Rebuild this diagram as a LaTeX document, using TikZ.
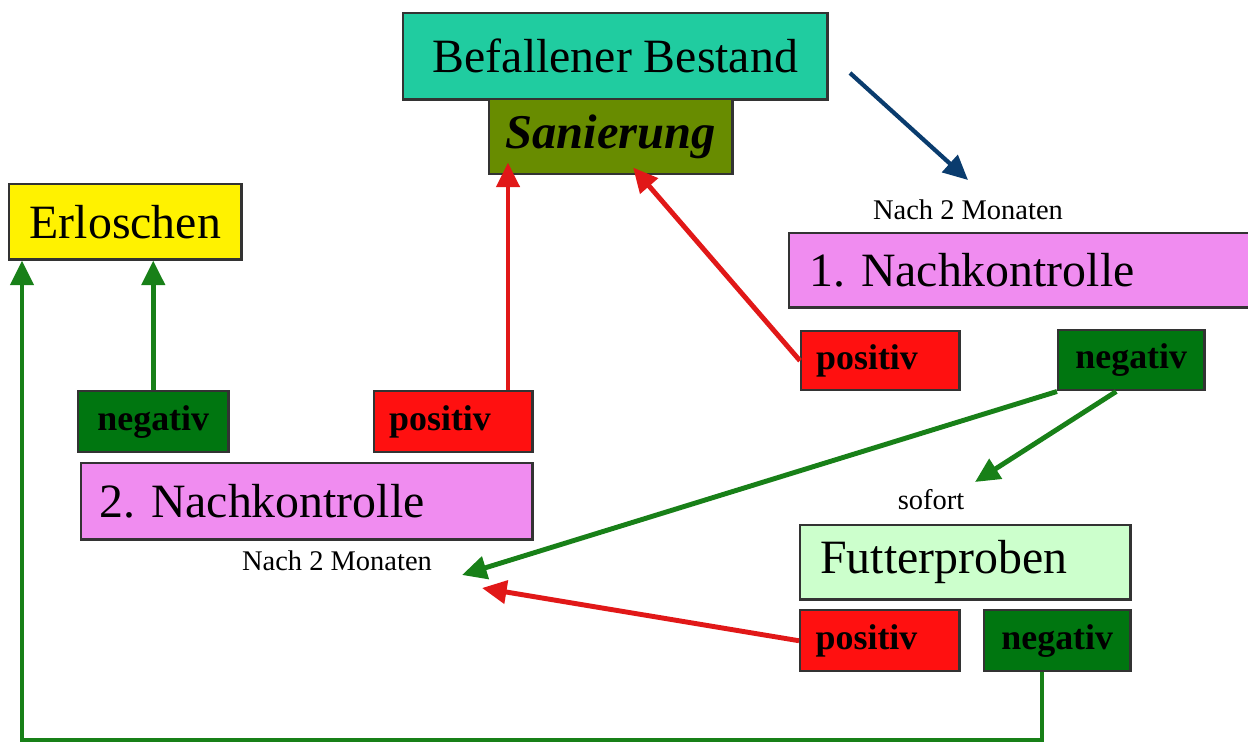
\documentclass[tikz,border=0pt]{standalone}
\usepackage{fontspec}
\setmainfont{Liberation Serif}
\usetikzlibrary{arrows.meta,calc}
\frenchspacing

\definecolor{bestand}{RGB}{32,204,160}
\definecolor{olive}{RGB}{104,140,0}
\definecolor{kontrolle}{RGB}{240,140,240}
\definecolor{futter}{RGB}{204,255,204}
\definecolor{posred}{RGB}{255,16,16}
\definecolor{neggreen}{RGB}{0,118,16}
\definecolor{arrgreen}{RGB}{24,128,24}
\definecolor{arrred}{RGB}{225,24,24}
\definecolor{arrblue}{RGB}{10,60,110}

\tikzset{
  box/.style={draw=black!80, line width=0.7pt, inner sep=0pt, anchor=north west},
  big/.style={font=\fontsize{13.6}{16}\selectfont},
  small/.style={font=\fontsize{8.1}{10}\selectfont, inner sep=0pt},
  result/.style={box, font=\fontsize{10.2}{12}\selectfont\bfseries},
  posbox/.style={result, fill=posred, text width=1.28cm, align=left},
  negbox/.style={result, fill=neggreen},
  greenarrow/.style={->, draw=arrgreen, line width=1.4pt},
  redarrow/.style={->, draw=arrred, line width=1.4pt},
}

\begin{document}
\begin{tikzpicture}[x=0.01cm,y=-0.01cm,>={Triangle[length=7pt,width=6.5pt]}]
  \useasboundingbox (0,0) rectangle (1248,743);

  % main boxes
  \node[box, big, fill=bestand, minimum width=4.24cm, minimum height=0.86cm] (bb) at (402,12) {Befallener Bestand};
  \node[box, fill=olive, minimum width=2.43cm, minimum height=0.75cm,
        font=\fontsize{13.8}{16}\selectfont\bfseries\itshape] (san) at (488,98) {Sanierung};
  \node[box, big, fill=yellow, minimum width=2.32cm, minimum height=0.75cm] (erl) at (8,183) {Erloschen};
  \node[box, big, fill=kontrolle, minimum width=4.62cm, minimum height=0.74cm,
        text width=4.22cm, align=left] (nk1) at (788,232) {1. Nachkontrolle};
  \node[box, big, fill=kontrolle, minimum width=4.51cm, minimum height=0.76cm,
        text width=4.15cm, align=left] (nk2) at (80,462) {2. Nachkontrolle};
  \node[box, big, fill=futter, minimum width=3.30cm, minimum height=0.74cm,
        text width=2.90cm, align=left] (fut) at (799,524) {Futterproben};

  % results
  \node[posbox, minimum width=1.58cm, minimum height=0.59cm] (pos1) at (800,330) {positiv};
  \node[negbox, minimum width=1.46cm, minimum height=0.60cm] (neg1) at (1057,329) {negativ};
  \node[negbox, minimum width=1.50cm, minimum height=0.61cm] (neg2) at (77,390) {negativ};
  \node[posbox, minimum width=1.58cm, minimum height=0.61cm] (pos2) at (373,390) {positiv};
  \node[posbox, minimum width=1.59cm, minimum height=0.61cm] (posF) at (799,609) {positiv};
  \node[negbox, minimum width=1.46cm, minimum height=0.61cm] (negF) at (983,609) {negativ};

  % small labels
  \node[small] (m1) at (968,210) {Nach 2 Monaten};
  \node[small] (m2) at (337,561) {Nach 2 Monaten};
  \node[small] (sof) at (931,500) {sofort};

  % free arrow ends
  \coordinate (bbout) at (850,73);
  \coordinate (m1in) at (968,180);
  \coordinate (sanl) at ([xshift=0.2cm,yshift=0.13cm]san.south west);
  \coordinate (sanr) at ([xshift=1.45cm,yshift=0.08cm]san.south west);
  \coordinate (m2in) at (462,575);
  \coordinate (m2red) at (482,588);
  \coordinate (sofin) at (975,482);
  \coordinate (bend) at (1042,740);

  \draw[->, draw=arrblue, line width=1.2pt] (bbout) -- (m1in);
  \draw[redarrow] (pos2.north -| sanl) -- (sanl);
  \draw[redarrow] (pos1.west) -- (sanr);
  \draw[redarrow] (posF.west) -- (m2red);
  \draw[greenarrow] (neg2.north) -- (neg2.north |- erl.south);
  \draw[greenarrow] (neg1.south west) -- (m2in);
  \draw[greenarrow] ([xshift=-0.15cm]neg1.south) -- (sofin);
  \draw[greenarrow] (negF.south -| bend) -- (bend) -| ([xshift=0.14cm]erl.south west);
\end{tikzpicture}
\end{document}
